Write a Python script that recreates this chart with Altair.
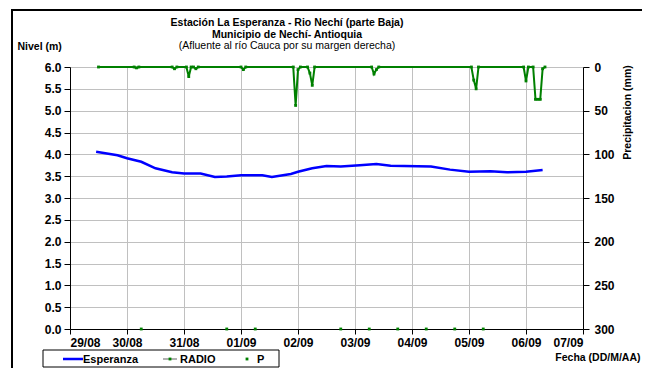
import json
import altair as alt
import pandas as pd

# ---------------- data (hours from 29/08 00:00) ----------------
esp_hours = [11, 20, 24, 30, 36, 43, 48, 55, 61, 66, 72, 81, 85, 93, 96, 102, 108,
             114, 122, 129, 135, 152, 160, 168, 177, 184, 192, 199]
esp_level = [4.06, 3.98, 3.91, 3.83, 3.68, 3.59, 3.56, 3.56, 3.48, 3.49, 3.52, 3.52,
             3.48, 3.55, 3.60, 3.68, 3.73, 3.72, 3.75, 3.78, 3.74, 3.72, 3.65, 3.60,
             3.61, 3.59, 3.60, 3.64]

radio_hours = [12, 27, 28, 29, 43, 44, 45, 49, 50, 51, 52, 53, 54, 72, 73, 74, 94, 95,
               96, 97, 100, 101, 102, 103, 127, 128, 129, 130, 169, 170, 171, 172, 191,
               192, 193, 195, 196, 197, 198, 199, 200]
radio_mm = [0, 0, 1, 0, 0, 2, 0, 0, 11, 0, 0, 2, 0, 0, 3, 0, 0, 44,
            3, 0, 0, 7, 21, 0, 0, 8, 3, 0, 0, 15, 25, 0, 0,
            16, 0, 0, 37, 37, 37, 2, 0]

p_hours = [30, 66, 78, 114, 126, 138, 150, 162, 174]
p_level = [0, 0, 0, 0, 0, 0, 0, 0, 0]

day_labels = ["29/08", "30/08", "31/08", "01/09", "02/09", "03/09", "04/09",
              "05/09", "06/09", "07/09"]
level_ticks = [0.0, 0.5, 1.0, 1.5, 2.0, 2.5, 3.0, 3.5, 4.0, 4.5, 5.0, 5.5, 6.0]
precip_ticks = [0, 50, 100, 150, 200, 250, 300]

title_lines = ["Estación La Esperanza - Rio Nechí  (parte Baja)",
               "Municipio de Nechí- Antioquia",
               "(Afluente al río Cauca por su margen derecha)"]

BLUE = "#0000ff"
GREEN = "#008000"
FONT = "Liberation Sans"

esp_df = pd.DataFrame({"day": [h / 24 for h in esp_hours], "level": esp_level})
radio_df = pd.DataFrame({"day": [h / 24 for h in radio_hours], "mm": radio_mm})
p_df = pd.DataFrame({"day": [h / 24 for h in p_hours], "level": p_level})
one = pd.DataFrame({"a": [0]})

W, H = 513, 262

x_enc = alt.X(
    "day:Q",
    scale=alt.Scale(domain=[0, 9], nice=False, zero=False),
    axis=alt.Axis(
        values=list(range(10)),
        labelExpr=json.dumps(day_labels) + "[datum.value]",
        title="Fecha (DD/M/AA)",
        titleX=W + 57, titleY=28, titleAlign="right", titleBaseline="middle",
        grid=True, gridColor="#c0c0c0", tickSize=5, labelPadding=3,
    ),
)

y_left = alt.Y(
    "level:Q",
    scale=alt.Scale(domain=[0, 6], nice=False),
    axis=alt.Axis(
        values=level_ticks, format=".1f", title="Nivel (m)",
        titleAngle=0, titleX=-53, titleY=-21, titleAlign="left", titleBaseline="middle",
        grid=True, gridColor="#c0c0c0", tickSize=6, labelPadding=3,
    ),
)

esp = alt.Chart(esp_df).mark_line(color=BLUE, strokeWidth=2.5).encode(x=x_enc, y=y_left)
pts = alt.Chart(p_df).mark_point(filled=True, shape="square", size=8, color=GREEN,
                                 opacity=1).encode(x=x_enc, y=y_left)
left = alt.layer(esp, pts)

radio = alt.Chart(radio_df).mark_line(
    color=GREEN, strokeWidth=2,
    point=alt.OverlayMarkDef(shape="square", size=8, filled=True, color=GREEN),
).encode(
    x="day:Q",
    y=alt.Y(
        "mm:Q",
        scale=alt.Scale(domain=[0, 300], reverse=True, nice=False),
        axis=alt.Axis(
            orient="right", values=precip_ticks, title="Precipitacion (mm)",
            titleAngle=270, titleX=44, titleY=45, titleAlign="center",
            titleBaseline="middle", grid=False, tickSize=6, labelPadding=5,
        ),
    ),
)

# ---------------- decorations ----------------
border = alt.Chart(one).mark_rect(fillOpacity=0, stroke="black", strokeWidth=2).encode(
    x=alt.value(-58), x2=alt.value(575), y=alt.value(-57), y2=alt.value(312))

titles = []
for i, (txt, ty) in enumerate(zip(title_lines, [-44, -32.5, -21])):
    titles.append(alt.Chart(one).mark_text(
        text=txt, font=FONT, fontSize=10.5, fontWeight="bold" if i < 2 else "normal",
        align="center", baseline="middle", color="black",
    ).encode(x=alt.value(217), y=alt.value(ty)))

LY = 292
leg = [
    alt.Chart(one).mark_rect(fill="white", stroke="black", strokeWidth=1).encode(
        x=alt.value(-27), x2=alt.value(209), y=alt.value(283), y2=alt.value(300)),
    alt.Chart(one).mark_rule(color=BLUE, strokeWidth=2.5).encode(
        x=alt.value(-7), x2=alt.value(13), y=alt.value(LY)),
    alt.Chart(one).mark_text(text="Esperanza", font=FONT, fontSize=11, fontWeight="bold",
                             align="left", baseline="middle").encode(
        x=alt.value(13), y=alt.value(LY + 1)),
    alt.Chart(one).mark_rule(color="#b0b0b0", strokeWidth=2).encode(
        x=alt.value(93), x2=alt.value(107), y=alt.value(LY)),
    alt.Chart(one).mark_point(filled=True, shape="square", size=8, color=GREEN, opacity=1).encode(
        x=alt.value(100), y=alt.value(LY)),
    alt.Chart(one).mark_text(text="RADIO", font=FONT, fontSize=11, fontWeight="bold",
                             align="left", baseline="middle").encode(
        x=alt.value(110), y=alt.value(LY + 1)),
    alt.Chart(one).mark_point(filled=True, shape="square", size=8, color=GREEN, opacity=1).encode(
        x=alt.value(177), y=alt.value(LY)),
    alt.Chart(one).mark_text(text="P", font=FONT, fontSize=11, fontWeight="bold",
                             align="left", baseline="middle").encode(
        x=alt.value(187), y=alt.value(LY + 1)),
]

chart = alt.layer(left, radio, border, *titles, *leg).resolve_scale(
    y="independent"
).properties(
    width=W, height=H,
    autosize=alt.AutoSizeParams(type="none"),
    padding={"left": 62, "top": 59, "right": 59, "bottom": 39},
).configure_view(stroke=None).configure_axis(
    labelFont=FONT, labelFontSize=12, labelFontWeight="bold", labelColor="black",
    titleFont=FONT, titleFontSize=10.5, titleFontWeight="bold", titleColor="black",
    domainColor="black", tickColor="black", domainWidth=1,
)

chart.save("out.html", embed_options={"renderer": "svg", "actions": False})
